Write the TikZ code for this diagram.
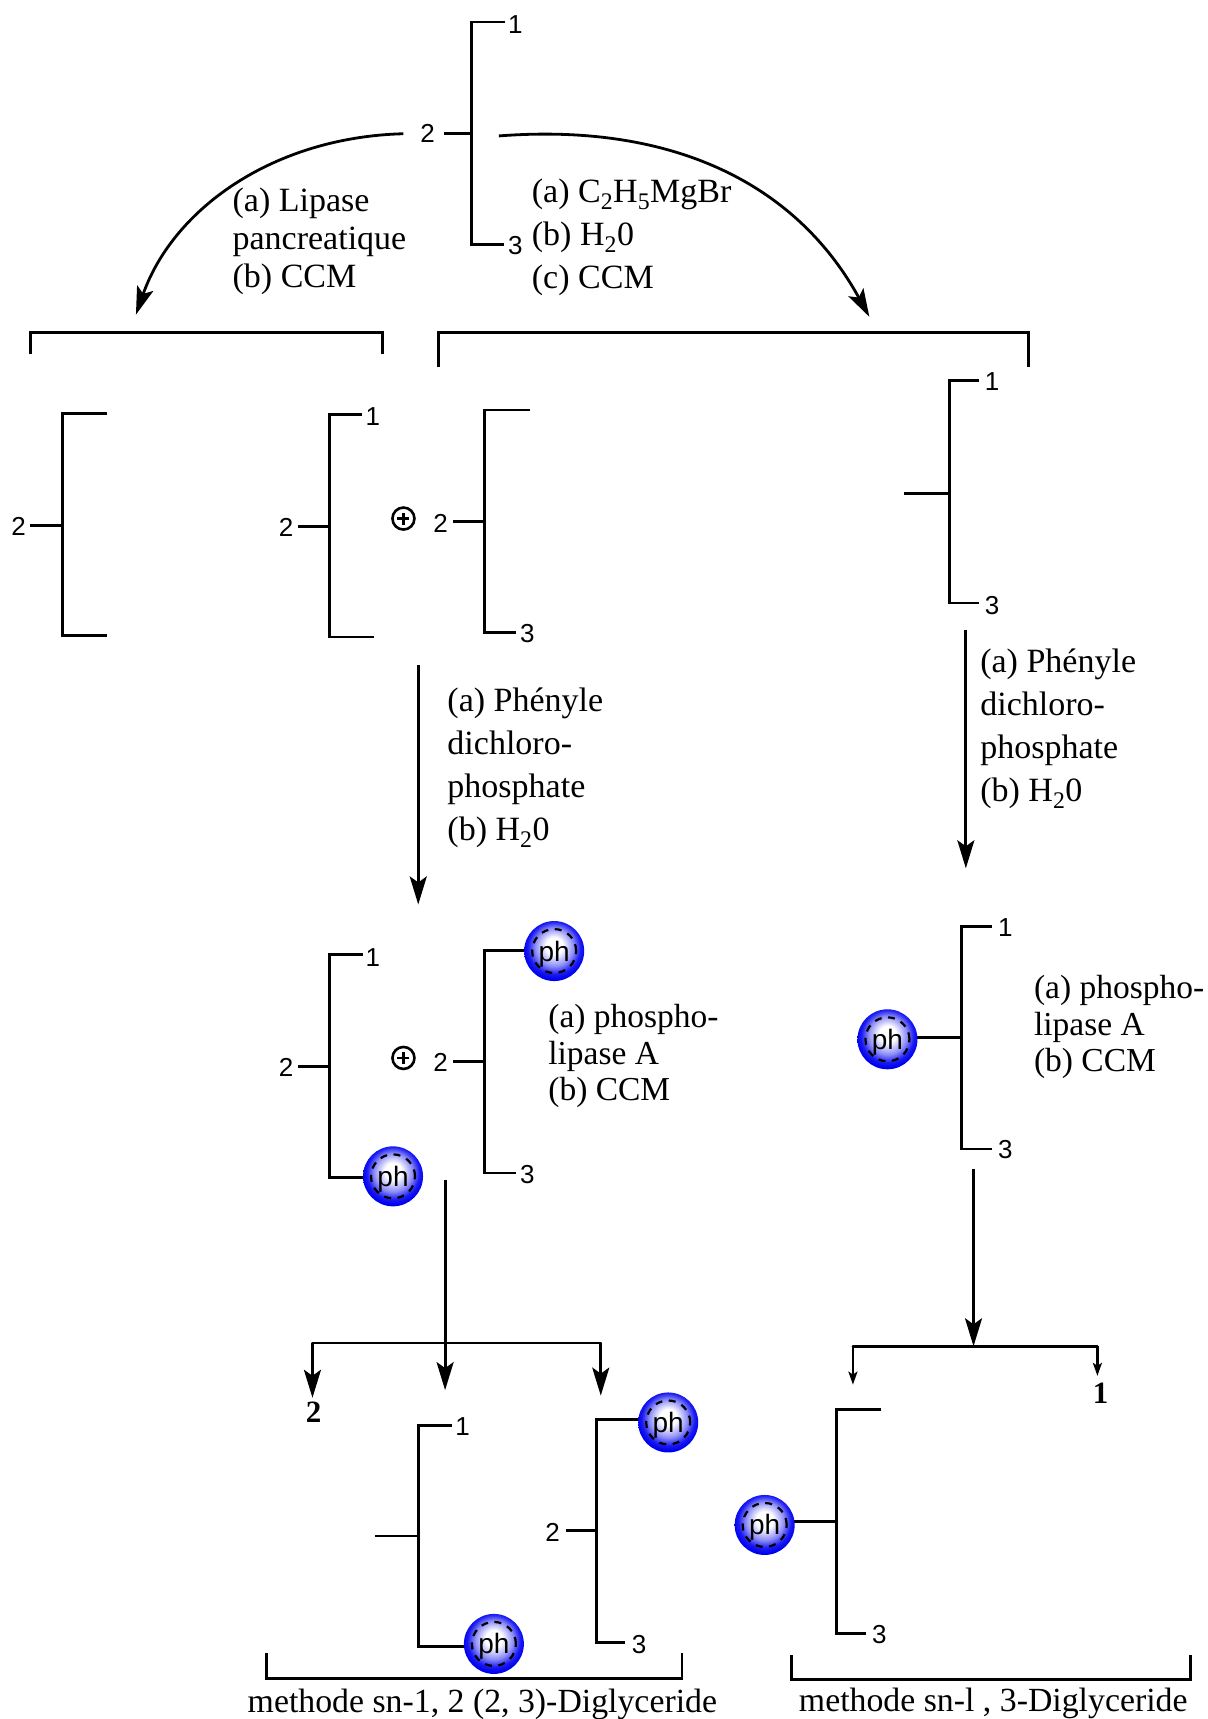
\documentclass[tikz,border=0pt]{standalone}
\usepackage{xcolor}
\usepackage{fontspec}
\setmainfont{Liberation Serif}
\setsansfont{Liberation Sans}
\usepackage{tikz}
\usetikzlibrary{arrows.meta}
\definecolor{bouleBleu}{HTML}{0000F0}
\pgfdeclareradialshading{boule}{\pgfpoint{0bp}{5bp}}{
  color(0bp)=(white); color(7bp)=(white); color(16bp)=(bouleBleu!45!white);
  color(22bp)=(bouleBleu!90!white); color(26bp)=(bouleBleu); color(50bp)=(bouleBleu)}
\tikzset{
  trait/.style={line width=2.8pt,line cap=butt,line join=miter},
  fleche/.style={trait,-{Stealth[length=28pt,width=17pt,inset=6pt]}},
  petite/.style={trait,-{Stealth[length=13pt,width=9pt,inset=3pt]}},
  crochet/.style={line width=2.8pt},
  num/.style={font=\sffamily\fontsize{26}{26}\selectfont,inner sep=0pt},
  gras/.style={font=\bfseries\fontsize{31}{31}\selectfont,inner sep=0pt},
  plusnd/.style={circle,draw,line width=2.6pt,minimum size=22pt,inner sep=0pt},
  reactif/.style={font=\fontsize{34}{43}\selectfont,align=left,anchor=west,inner sep=0pt},
  reactifB/.style={font=\fontsize{33.5}{36.5}\selectfont,align=left,anchor=west,inner sep=0pt},
  titre/.style={font=\fontsize{33.8}{36}\selectfont,inner sep=0pt},
  ph/.style={circle,minimum size=60pt,inner sep=0pt,shading=boule,
    font=\sffamily\fontsize{28}{28}\selectfont,
    path picture={\draw[line width=2.2pt,dash pattern=on 7pt off 6.5pt] (path picture bounding box.center) circle (22pt);}},
}
\begin{document}
\begin{tikzpicture}[x=1.0963pt,y=-1.0963pt]
\useasboundingbox (0,0) rectangle (1101,1568);
% squelettes
\foreach \sx/\ha/\ba/\mi/\ga/\dh/\db in {
  430/20/223/122/405/461/460,
  57/377/580/479/27/98/98,
  300.5/378/581/480/272/330/341,
  442/374/577/476/413/483/471,
  866/347/550/450/825/893/893,
  300.5/871/1074/973/272/331/358,
  442/867/1070/968/413/505/471,
  877/845/1048/946/809/905/905,
  382/1300/1502/1401/342/412/450,
  544/1295/1498/1396/516/609/570,
  763/1286/1490/1388/697/804/790}
  \draw[trait] (\dh,\ha)--(\sx,\ha)--(\sx,\ba)--(\db,\ba) (\sx,\mi)--(\ga,\mi);
% numeros
\foreach \nom/\px/\py/\txt in {
  a1/470/22/1, a2/390/122/2, a3/470/224/3,
  b2/17/480/2,
  c1/340/380/1, c2/261/481/2,
  d2/402/477/2, d3/481/578/3,
  e1/905/348/1, e3/905/552/3,
  f1/340/873/1, f2/261/974/2,
  g2/402/969/2, g3/481/1071/3,
  h1/917/846/1, h3/917/1049/3,
  i1/422/1301/1,
  j2/504/1398/2, j3/583/1500/3,
  k3/802/1491/3}
  \node[num] (\nom) at (\px,\py) {\txt};
% boules
\foreach \nom/\px/\py in {pf/358.5/1073, pg/505.5/867.5, ph7/809.5/948, pi/450.5/1499.5, pj/609.5/1297.5, pk/697.5/1391}
  \node[ph] (\nom) at (\px,\py) {\raisebox{-10pt}[0pt][0pt]{ph}};
\foreach \nom/\py in {plusA/473, plusB/965} {
  \node[plusnd] (\nom) at (368,\py) {};
  \draw[line width=2.6pt] ([yshift=6pt]\nom.center)--([yshift=-6pt]\nom.center) ([xshift=-6pt]\nom.center)--([xshift=6pt]\nom.center);
}
% reactifs
\node[reactif] (rA) at (212,220) {(a) Lipase\\[-5pt]pancreatique\\[-5pt](b) CCM};
\node[reactif] (rB) at (485,216.5) {(a) C\textsubscript{2}H\textsubscript{5}MgBr\\(b) H\textsubscript{2}0\\(c) CCM};
\node[reactif] (rC) at (408,700.5) {(a) Phényle\\dichloro-\\phosphate\\(b) H\textsubscript{2}0};
\node[reactif] (rD) at (894,665) {(a) Phényle\\dichloro-\\phosphate\\(b) H\textsubscript{2}0};
\node[reactifB] (rE) at (500,963.5) {(a) phospho-\\lipase A\\(b) CCM};
\node[reactifB] (rF) at (943,937) {(a) phospho-\\lipase A\\(b) CCM};
\node[gras] (bil2) at (286,1288) {2};
\node[gras] (bil1) at (1004,1271) {1};
\node[titre] (mA) at (440,1555) {methode sn-1, 2 (2, 3)-Diglyceride};
\node[titre] (mB) at (906,1553.5) {methode sn-l , 3-Diglyceride};
% fleches
\coordinate (cA) at (368,122);
\coordinate (cB) at (124,287);
\coordinate (cC) at (455,124);
\coordinate (cD) at (793,289);
\draw[fleche] (cA) .. controls (250,125) and (158,190) .. (cB);
\draw[fleche] (cC) .. controls (610,112) and (725,165) .. (cD);
\coordinate (dA) at (381.5,607);
\coordinate (dB) at (381.5,825);
\coordinate (dC) at (881,575);
\coordinate (dD) at (881,792);
\coordinate (dE) at (406,1076);
\coordinate (dF) at (406,1268);
\coordinate (dG) at (888,1066);
\coordinate (dH) at (888,1228);
\draw[fleche] (dA)--(dB);
\draw[fleche] (dC)--(dD);
\draw[fleche] (dE)--(dF);
\draw[fleche] (dG)--(dH);
\coordinate (eA) at (285,1225);
\coordinate (eB) at (548,1225);
\coordinate (eC) at (285,1275);
\coordinate (eD) at (548,1273);
\draw[trait,line cap=round] (eA)--(eB);
\draw[fleche] (eA)--(eC);
\draw[fleche] (eB)--(eD);
\coordinate (fA) at (778,1228);
\coordinate (fB) at (1001,1228);
\coordinate (fC) at (778,1263);
\coordinate (fD) at (1001,1255);
\draw[trait,line cap=round] (fA)--(fB);
\draw[petite] (fA)--(fC);
\draw[petite] (fB)--(fD);
% crochets
\draw[crochet] (28,323)--(28,303)--(349,303)--(349,323);
\draw[crochet] (400,335)--(400,303)--(938,303)--(938,335);
\draw[crochet] (243,1508)--(243,1531)--(622,1531)--(622,1508);
\draw[crochet] (722,1510)--(722,1532)--(1086,1532)--(1086,1510);
\end{tikzpicture}
\end{document}
